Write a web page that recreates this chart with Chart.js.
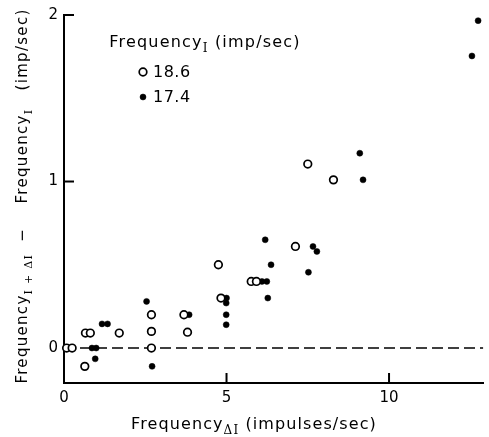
<!DOCTYPE html>
<html lang="en">
  <head>
    <meta charset="UTF-8" />
    <title>Frequency difference vs Frequency ΔI</title>
    <script src="https://cdn.jsdelivr.net/npm/chart.js@4.4.0/dist/chart.umd.min.js"></script>
    <style>
      body { margin: 0; background: #fff; }
      #wrap { width: 489px; height: 437px; }
    </style>
  </head>
  <body>
    <div id="wrap"><canvas id="chart"></canvas></div>
    <script>
      // open circles, Frequency I = 18.6 imp/sec
      const openX = [0.08, 0.25, 0.64, 0.66, 0.81, 1.70, 2.69, 2.69, 2.69, 3.69, 3.80, 4.75, 4.83, 5.76, 5.92, 7.12, 7.50, 8.29];
      const openY = [0, 0, -0.11, 0.09, 0.09, 0.09, 0.20, 0.10, 0, 0.20, 0.095, 0.50, 0.30, 0.40, 0.40, 0.61, 1.105, 1.01];
      // filled dots, Frequency I = 17.4 imp/sec
      const filledX = [0.86, 0.99, 0.96, 1.17, 1.34, 2.54, 2.71, 3.85, 5.00, 4.99, 4.99, 4.99, 6.19, 6.37, 6.09, 6.24, 6.27, 7.52, 7.66, 7.78, 9.10, 9.20, 12.55, 12.74];
      const filledY = [0, 0, -0.065, 0.145, 0.145, 0.28, -0.11, 0.20, 0.30, 0.27, 0.20, 0.14, 0.65, 0.50, 0.40, 0.40, 0.30, 0.455, 0.61, 0.58, 1.17, 1.01, 1.754, 1.966];
      const seriesLabels = ["18.6", "17.4"];
      // dashed zero line
      const zeroX = [0, 12.9];
      const zeroY = [0, 0];
      const xTicks = [0, 5, 10];
      const yTicks = [0, 1, 2];

      const FONT = '"DejaVu Sans", sans-serif';
      const SUBFONT = '"DejaVu Serif", serif';
      const toPoints = (xs, ys) => xs.map((x, i) => ({ x: x, y: ys[i] }));

      // draws a run of text pieces, some as subscripts, centred on (cx, base)
      function richText(ctx, parts, cx, base, size, spacing) {
        ctx.save();
        ctx.letterSpacing = spacing + "px";
        ctx.textBaseline = "alphabetic";
        ctx.textAlign = "left";
        const sub = Math.round(size * 0.72);
        const fontOf = (p) => (p[1] ? sub + "px " + SUBFONT : size + "px " + FONT);
        const widths = parts.map((p) => {
          ctx.font = fontOf(p);
          return ctx.measureText(p[0]).width;
        });
        const total = widths.reduce((a, b) => a + b, 0);
        let x = cx - total / 2;
        parts.forEach((p, i) => {
          ctx.font = fontOf(p);
          ctx.fillText(p[0], x, base + (p[1] ? size * 0.32 : 0));
          x += widths[i];
        });
        ctx.restore();
      }

      const extras = {
        id: "extras",
        afterDraw(chart) {
          const ctx = chart.ctx;
          const xs = chart.scales.x;
          const ys = chart.scales.y;
          ctx.save();
          ctx.strokeStyle = "#000";
          ctx.lineWidth = 2;
          // inward tick marks
          yTicks.forEach((v) => {
            if (v === 0) return;
            const py = ys.getPixelForValue(v);
            ctx.beginPath();
            ctx.moveTo(xs.left, py);
            ctx.lineTo(xs.left + 10, py);
            ctx.stroke();
          });
          xTicks.forEach((v) => {
            if (v === 0) return;
            const px = xs.getPixelForValue(v);
            ctx.beginPath();
            ctx.moveTo(px, ys.bottom);
            ctx.lineTo(px, ys.bottom - 10);
            ctx.stroke();
          });
          ctx.fillStyle = "#000";

          // x axis title
          richText(ctx, [["Frequency", false], ["ΔI", true], [" (impulses/sec)", false]], 254, 429, 16, 1.1);

          // y axis title
          ctx.save();
          ctx.translate(27, 196);
          ctx.rotate(-Math.PI / 2);
          richText(ctx, [["Frequency", false], ["I + ΔI", true], ["  −    ", false], ["Frequency", false], ["I", true], ["   (imp/sec)", false]], 0, 0, 15, 1.3);
          ctx.restore();

          // legend
          richText(ctx, [["Frequency", false], ["I", true], [" (imp/sec)", false]], 205, 47, 16, 1.2);
          const ds = chart.data.datasets;
          [0, 1].forEach((i) => {
            const cy = 72 + i * 25;
            ctx.beginPath();
            ctx.arc(143, cy, ds[i].pointRadius, 0, Math.PI * 2);
            ctx.fillStyle = ds[i].backgroundColor;
            ctx.fill();
            ctx.lineWidth = ds[i].borderWidth;
            ctx.strokeStyle = "#000";
            ctx.stroke();
            ctx.fillStyle = "#000";
            ctx.font = "16px " + FONT;
            ctx.letterSpacing = "0.5px";
            ctx.textBaseline = "middle";
            ctx.fillText(ds[i].label, 153, cy + 1);
          });
          ctx.restore();
        },
      };

      const ctx = document.getElementById("chart").getContext("2d");
      const chart = new Chart(ctx, {
        type: "scatter",
        data: {
          datasets: [
            {
              label: seriesLabels[0],
              data: toPoints(openX, openY),
              pointStyle: "circle",
              pointRadius: 3.8,
              borderWidth: 1.7,
              borderColor: "#000",
              backgroundColor: "#fff",
              clip: false,
            },
            {
              label: seriesLabels[1],
              data: toPoints(filledX, filledY),
              pointStyle: "circle",
              pointRadius: 3,
              borderWidth: 0.5,
              borderColor: "#000",
              backgroundColor: "#000",
              clip: false,
            },
            {
              type: "line",
              label: "zero",
              data: toPoints(zeroX, zeroY),
              borderColor: "#000",
              borderWidth: 1.5,
              borderDash: [11, 5],
              pointRadius: 0,
              fill: false,
            },
          ],
        },
        options: {
          responsive: true,
          maintainAspectRatio: false,
          animation: false,
          layout: { padding: { top: 15, right: 0, left: 0, bottom: 0 } },
          plugins: { legend: { display: false }, tooltip: { enabled: false } },
          scales: {
            x: {
              type: "linear",
              min: 0,
              max: 12.9,
              afterFit: (s) => { s.height = 54; },
              afterBuildTicks: (s) => { s.ticks = xTicks.map((v) => ({ value: v })); },
              grid: { display: false, drawTicks: false },
              border: { display: true, color: "#000", width: 2 },
              ticks: { color: "#000", font: { family: FONT, size: 15 }, padding: 6, maxRotation: 0 },
            },
            y: {
              type: "linear",
              min: -0.21,
              max: 2,
              afterFit: (s) => { s.width = 64; },
              afterBuildTicks: (s) => { s.ticks = yTicks.map((v) => ({ value: v })); },
              grid: { display: false, drawTicks: false },
              border: { display: true, color: "#000", width: 2 },
              ticks: { color: "#000", font: { family: FONT, size: 15 }, padding: 6 },
            },
          },
        },
        plugins: [extras],
      });
    </script>
  </body>
</html>
